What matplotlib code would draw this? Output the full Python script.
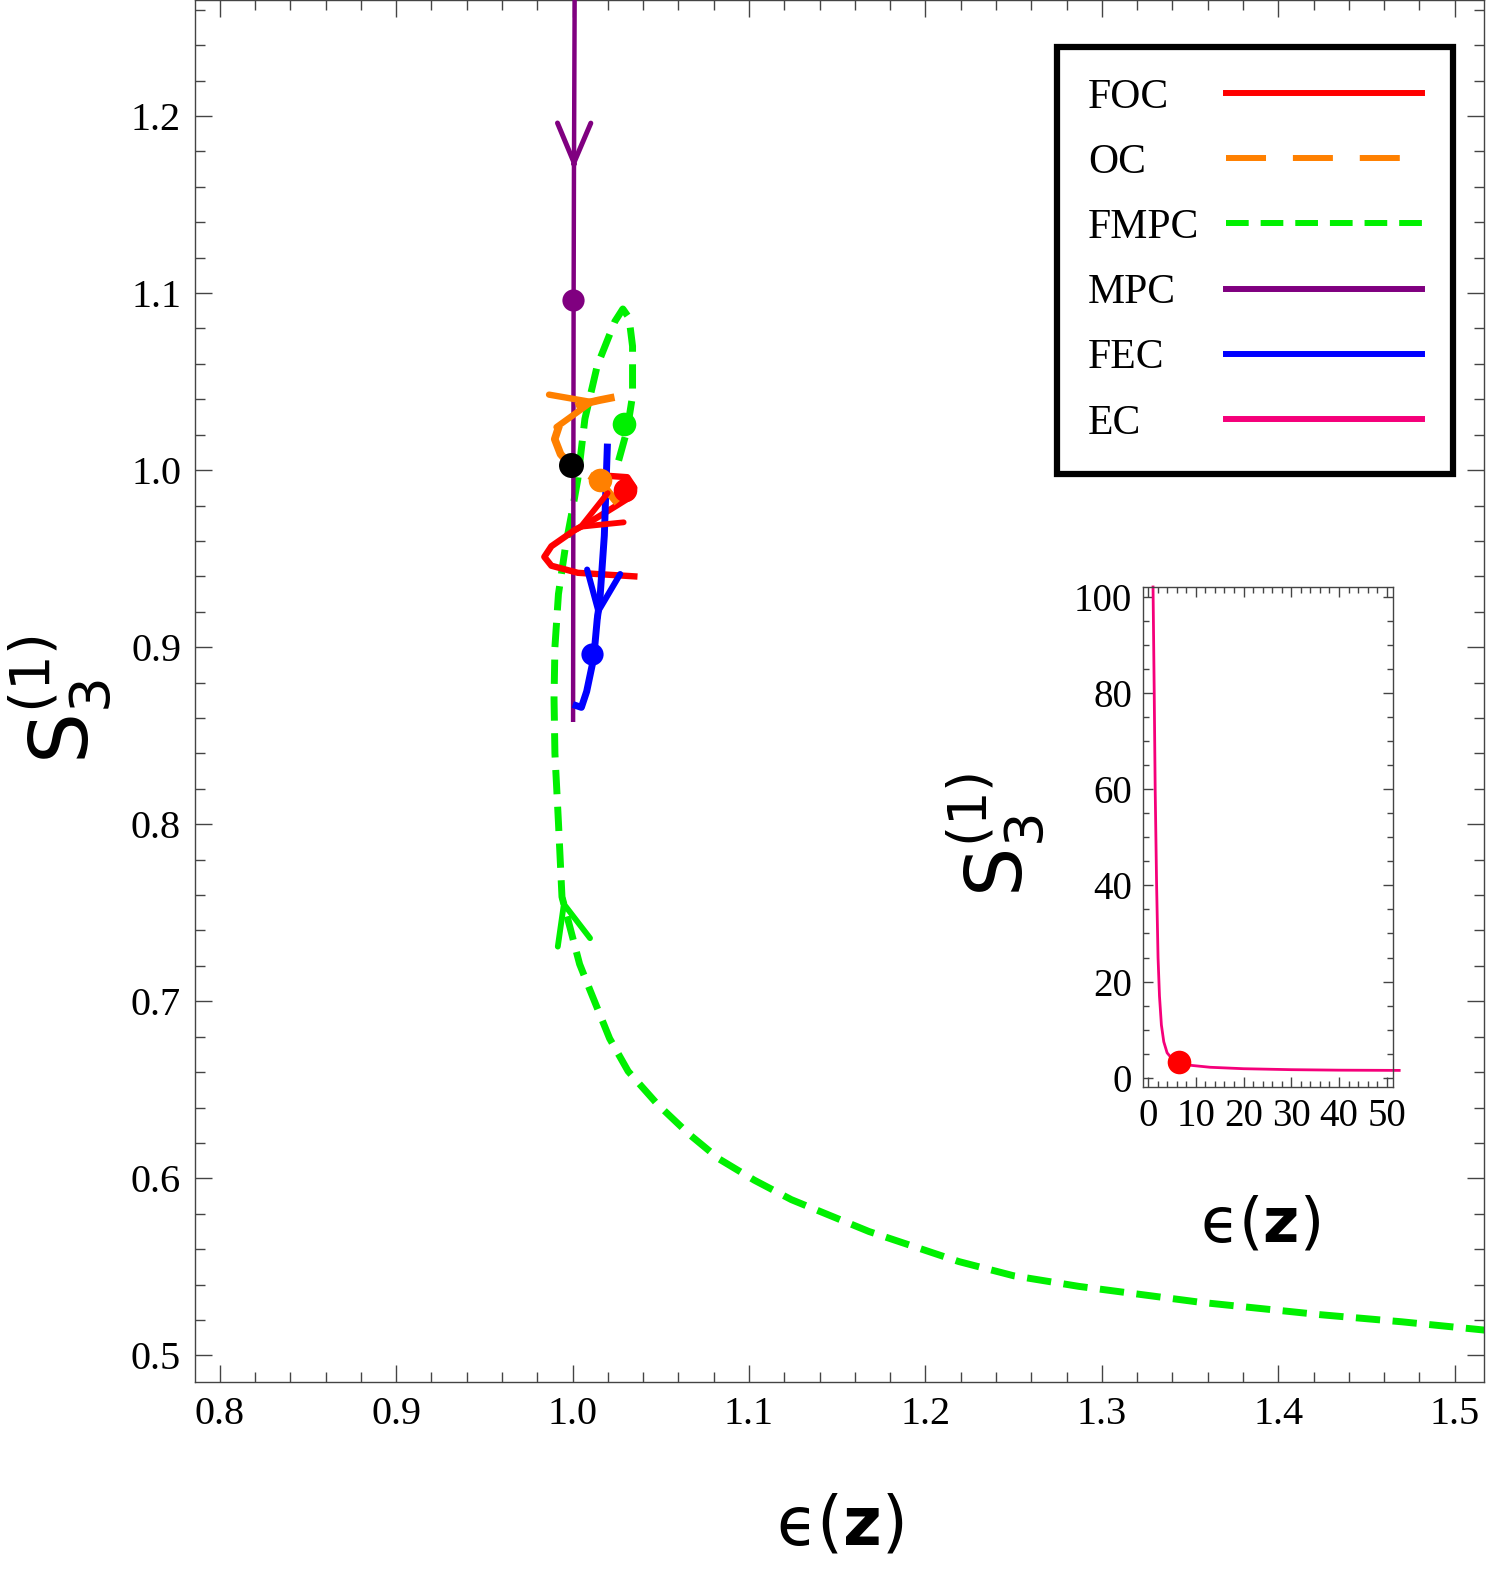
import numpy as np
import matplotlib
matplotlib.use('Agg')
import matplotlib.pyplot as plt
from matplotlib.ticker import MultipleLocator, FormatStrFormatter
from matplotlib.lines import Line2D
from matplotlib.font_manager import FontProperties

plt.rcParams['mathtext.fontset'] = 'custom'
plt.rcParams['mathtext.rm'] = 'DejaVu Sans'
plt.rcParams['mathtext.it'] = 'DejaVu Sans'
plt.rcParams['mathtext.bf'] = 'DejaVu Sans:bold'

# ---------------- data ----------------
labels = ["FOC", "OC", "FMPC", "MPC", "FEC", "EC"]

# FOC (red, solid)
foc_x = [1.0225, 1.031, 1.035, 1.033, 1.025, 1.012, 1.001, 0.988, 0.984, 0.988, 1.003, 1.035]
foc_y = [0.9966, 0.996, 0.990, 0.985, 0.980, 0.972, 0.966, 0.957, 0.951, 0.946, 0.942, 0.940]
foc_dot = (1.030, 0.989)
foc_arrow = 6

# OC (orange, dashed)
oc_x = [1.0254, 1.0158, 1.0056, 0.9983, 0.9932, 0.9899, 0.9927, 0.9983, 1.0056, 1.0152, 1.0355]
oc_y = [0.9814, 0.9932, 0.9994, 1.0034, 1.0090, 1.0175, 1.0260, 1.0345, 1.0373, 1.0395, 1.0435]
oc_dot = (1.0155, 0.9945)
oc_arrow = 9

# FMPC (green, dashed)
fmpc_x = [1.520, 1.470, 1.424, 1.356, 1.287, 1.250, 1.219, 1.168, 1.124, 1.103, 1.083, 1.066,
          1.048, 1.0315, 1.021, 1.0096, 1.004, 0.999, 0.994, 0.992, 0.990, 0.9895, 0.990,
          0.992, 0.996, 1.000, 1.003, 1.007, 1.014, 1.024, 1.0285, 1.032, 1.034, 1.034,
          1.031, 1.026]
fmpc_y = [0.514, 0.519, 0.523, 0.530, 0.539, 0.545, 0.553, 0.570, 0.588, 0.599, 0.611, 0.625,
          0.642, 0.6605, 0.679, 0.707, 0.721, 0.740, 0.759, 0.801, 0.840, 0.871, 0.900,
          0.930, 0.957, 0.978, 0.995, 1.029, 1.059, 1.084, 1.091, 1.086, 1.070, 1.042,
          1.023, 1.005]
fmpc_dot = (1.029, 1.026)
fmpc_arrow = 18

# MPC (purple, solid)
mpc_x = [1.0012, 1.0008, 1.0006, 1.0004, 1.0003]
mpc_y = [1.270, 1.170, 1.096, 0.950, 0.859]
mpc_dot = (1.0002, 1.096)
mpc_arrow = 1

# FEC (blue, solid)
fec_x = [1.0197, 1.018, 1.0155, 1.014, 1.012, 1.008, 1.005, 1.002]
fec_y = [1.013, 0.963, 0.927, 0.916, 0.894, 0.875, 0.866, 0.867]
fec_dot = (1.011, 0.896)
fec_arrow = 3

# common point (black)
common_dot = (0.999, 1.003)

# EC (pink) - inset
ec_x = [1.05, 1.3, 1.5, 1.8, 2.1, 2.4, 2.8, 3.3, 4.0, 5.0, 6.5, 9.0, 13.0, 20.0, 30.0, 40.0, 52.6]
ec_y = [102.0, 80.0, 60.0, 40.0, 25.0, 17.0, 11.0, 7.5, 5.2, 4.0, 3.3, 2.6, 2.2, 1.9, 1.7, 1.6, 1.55]
ec_dot = (6.5, 3.3)

# ---------------- styles ----------------
C_RED = '#FF0000'
C_ORANGE = '#FF8000'
C_GREEN = '#00F000'
C_PURPLE = '#800080'
C_BLUE = '#0000FF'
C_PINK = '#F5007A'
SPINE = '#444444'
serif = 'Liberation Serif'
XLABEL = '$\u03f5(\\mathbf{z})$'
YLABEL = '$\\mathrm{S}_{3}^{(1)}$'

fig = plt.figure(figsize=(15, 15.8), dpi=100)
ax = fig.add_axes([195 / 1500, 1 - 1382 / 1580, (1484 - 195) / 1500, 1382 / 1580])


def add_arrow(axis, xs, ys, k, color, lw):
    tip = (xs[k], ys[k])
    tail = (xs[k] + 0.03 * (xs[k - 1] - xs[k]), ys[k] + 0.03 * (ys[k - 1] - ys[k]))
    axis.annotate('', xy=tip, xytext=tail,
                  arrowprops=dict(arrowstyle='->,head_length=0.95,head_width=0.4',
                                  color=color, lw=lw, shrinkA=0, shrinkB=0,
                                  mutation_scale=30), zorder=4)


ax.plot(fmpc_x, fmpc_y, color=C_GREEN, lw=5.0, ls=(0, (3.5, 1.8)), zorder=2)
ax.plot(mpc_x, mpc_y, color=C_PURPLE, lw=3.2, zorder=3)
ax.plot(foc_x, foc_y, color=C_RED, lw=4.6, zorder=3)
ax.plot(fec_x, fec_y, color=C_BLUE, lw=5.0, zorder=3)
ax.plot(oc_x, oc_y, color=C_ORANGE, lw=5.5, ls=(0, (5.2, 3.5)), zorder=3)

add_arrow(ax, fmpc_x, fmpc_y, fmpc_arrow, C_GREEN, 4.2)
add_arrow(ax, mpc_x, mpc_y, mpc_arrow, C_PURPLE, 3.6)
add_arrow(ax, foc_x, foc_y, foc_arrow, C_RED, 4.2)
add_arrow(ax, fec_x, fec_y, fec_arrow, C_BLUE, 4.4)
add_arrow(ax, oc_x, oc_y, oc_arrow, C_ORANGE, 4.6)

for (px, py), c, ms in [(mpc_dot, C_PURPLE, 16), (fmpc_dot, C_GREEN, 17), (foc_dot, C_RED, 17),
                        (fec_dot, C_BLUE, 16), (oc_dot, C_ORANGE, 17), (common_dot, 'black', 18)]:
    ax.plot([px], [py], 'o', color=c, ms=ms, mec='none', zorder=5)

ax.set_xlim(0.786, 1.5166)
ax.set_ylim(0.485, 1.2655)
ax.xaxis.set_major_locator(MultipleLocator(0.1))
ax.xaxis.set_minor_locator(MultipleLocator(0.02))
ax.yaxis.set_major_locator(MultipleLocator(0.1))
ax.yaxis.set_minor_locator(MultipleLocator(0.02))
ax.xaxis.set_major_formatter(FormatStrFormatter('%.1f'))
ax.yaxis.set_major_formatter(FormatStrFormatter('%.1f'))
ax.tick_params(which='both', direction='in', top=True, right=True, color=SPINE, width=1.0)
ax.tick_params(which='major', length=12, pad=10, labelsize=29)
ax.tick_params(which='minor', length=7)
for lab in ax.get_xticklabels() + ax.get_yticklabels():
    lab.set_fontfamily(serif)
for s in ax.spines.values():
    s.set_color(SPINE)
    s.set_linewidth(1.0)

ax.set_xlabel(XLABEL, fontsize=48, va='center')
ax.xaxis.set_label_coords(0.5004, -0.1035)
ax.set_ylabel(YLABEL, fontsize=58, va='center')
ax.yaxis.set_label_coords(-0.1047, 0.4935)

# legend
handles = [Line2D([], [], color=C_RED, lw=4.3),
           Line2D([], [], color=C_ORANGE, lw=4.3, ls=(0, (6.7, 4.5))),
           Line2D([], [], color=C_GREEN, lw=4.3, ls=(0, (3.8, 2.0))),
           Line2D([], [], color=C_PURPLE, lw=4.3),
           Line2D([], [], color=C_BLUE, lw=4.3),
           Line2D([], [], color=C_PINK, lw=4.3)]
leg = ax.legend(handles, labels, loc='upper right', bbox_to_anchor=(0.976, 0.966),
                markerfirst=False, frameon=True, fancybox=False, edgecolor='black',
                framealpha=1, borderpad=0.75, labelspacing=0.64, handlelength=4.7,
                handletextpad=1.0, borderaxespad=0,
                prop=FontProperties(family=serif, size=30))
leg.get_frame().set_linewidth(4.5)
try:
    for col in leg._legend_handle_box.get_children():
        for row in col.get_children():
            row.mode = 'expand'
            row.width = 334
except Exception:
    pass

# inset
ax_in = fig.add_axes([1143 / 1500, 1 - 1087 / 1580, 250 / 1500, 500 / 1580])
ax_in.plot(ec_x, ec_y, color=C_PINK, lw=2.0, clip_on=False, zorder=2)
ax_in.plot([ec_dot[0]], [ec_dot[1]], 'o', color=C_RED, ms=17, mec='none', zorder=3, clip_on=False)
ax_in.set_xlim(-1.05, 51.3)
ax_in.set_ylim(-1.9, 102.0)
ax_in.xaxis.set_major_locator(MultipleLocator(10))
ax_in.xaxis.set_minor_locator(MultipleLocator(2))
ax_in.yaxis.set_major_locator(MultipleLocator(20))
ax_in.yaxis.set_minor_locator(MultipleLocator(5))
ax_in.tick_params(which='both', direction='in', top=True, right=True, color=SPINE, width=1.0)
ax_in.tick_params(which='major', length=7, pad=8, labelsize=28)
ax_in.tick_params(which='minor', length=4)
for lab in ax_in.get_xticklabels() + ax_in.get_yticklabels():
    lab.set_fontfamily(serif)
for s in ax_in.spines.values():
    s.set_color(SPINE)
    s.set_linewidth(1.0)
ax_in.set_xlabel(XLABEL, fontsize=45, va='center')
ax_in.xaxis.set_label_coords(0.468, -0.276)
ax_in.set_ylabel(YLABEL, fontsize=56, va='center')
ax_in.yaxis.set_label_coords(-0.592, 0.505)

fig.savefig('out.png', dpi=100)
